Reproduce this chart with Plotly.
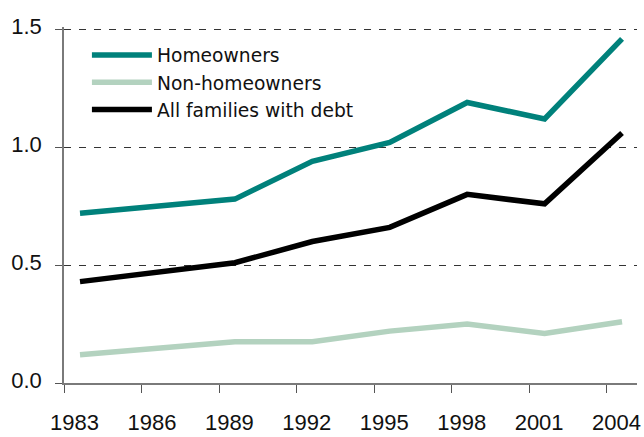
import plotly.graph_objects as go

# Survey years and debt ratios for each group
years = [1983, 1989, 1992, 1995, 1998, 2001, 2004]
homeowners = [0.72, 0.78, 0.94, 1.02, 1.19, 1.12, 1.46]
non_homeowners = [0.12, 0.175, 0.175, 0.22, 0.25, 0.21, 0.26]
all_families = [0.43, 0.51, 0.60, 0.66, 0.80, 0.76, 1.06]

tick_years = [1983, 1986, 1989, 1992, 1995, 1998, 2001, 2004]
tick_labels = [str(y) for y in tick_years]
y_ticks = [0.0, 0.5, 1.0, 1.5]
y_tick_labels = ["0.0", "0.5", "1.0", "1.5"]

# Tick marks sit a little ahead of each survey year
TICK_LEAD = 0.6

series = [
    ("Homeowners", homeowners, "#00817b"),
    ("Non-homeowners", non_homeowners, "#b3d2bf"),
    ("All families with debt", all_families, "#000000"),
]

fig = go.Figure()
for name, vals, color in series:
    fig.add_trace(go.Scatter(
        x=years, y=vals, name=name, mode="lines",
        line=dict(color=color, width=5.5),
    ))

fig.update_layout(
    width=644, height=437,
    margin=dict(l=64, r=7, t=27, b=54),
    paper_bgcolor="white", plot_bgcolor="white",
    showlegend=True,
    legend=dict(
        x=0.04, y=0.974, xanchor="left", yanchor="top",
        bgcolor="rgba(0,0,0,0)",
        font=dict(family="DejaVu Sans", size=18.7, color="#111111"),
        itemwidth=60, tracegroupgap=0,
    ),
    font=dict(family="Liberation Sans, Arial, sans-serif", size=22, color="#111111"),
)

fig.update_xaxes(
    range=[1982.38, 2004.58],
    automargin=False,
    tickmode="array",
    tickvals=[y - TICK_LEAD for y in tick_years],
    ticktext=tick_labels,
    ticks="outside", ticklen=8, tickcolor="#555555", tickwidth=1,
    ticklabelshift=10, ticklabelstandoff=11,
    showline=True, linecolor="#7a7a7a", linewidth=1.5,
    showgrid=False, zeroline=False,
    tickfont=dict(family="Liberation Sans, Arial, sans-serif", size=22, color="#111111"),
)

fig.update_yaxes(
    range=[0, 1.51],
    automargin=False,
    tickmode="array", tickvals=y_ticks, ticktext=y_tick_labels,
    ticks="outside", ticklen=7, tickcolor="#555555", tickwidth=1,
    ticklabelshift=-3, ticklabelstandoff=9,
    showline=True, linecolor="#7a7a7a", linewidth=1.5,
    showgrid=True, gridcolor="#333333", gridwidth=1, griddash="7px,8px",
    zeroline=False,
    tickfont=dict(family="Liberation Sans, Arial, sans-serif", size=22, color="#111111"),
)

fig.write_html("out.html")
